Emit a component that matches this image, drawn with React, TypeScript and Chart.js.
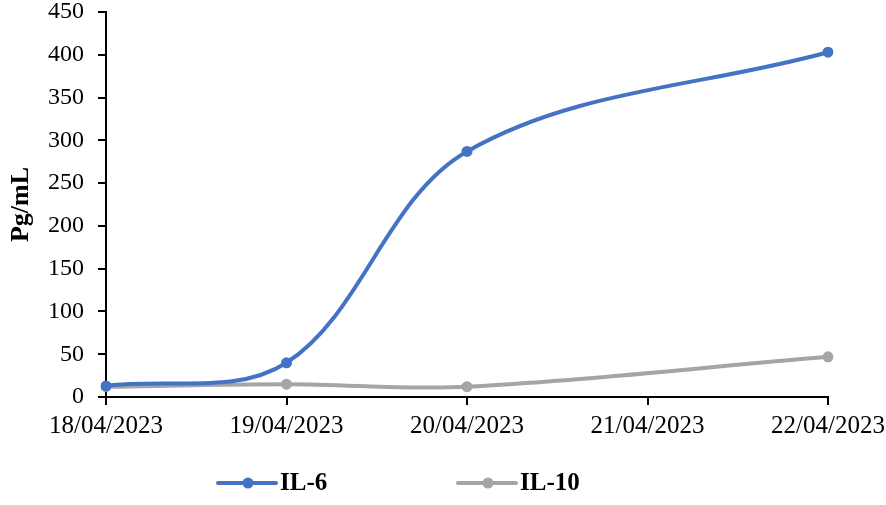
import React, { useEffect, useRef } from "react";
import { Chart, registerables } from "chart.js";

Chart.register(...registerables);

const dates = ["18/04/2023", "19/04/2023", "20/04/2023", "21/04/2023", "22/04/2023"];
const il6 = [13, 40, 287, null, 403];
const il10 = [12, 15, 12, null, 47];
const yTicks = [0, 50, 100, 150, 200, 250, 300, 350, 400, 450];

const BLUE = "#4472C4";
const GRAY = "#A5A5A5";
const FONT = "'Liberation Serif', 'Times New Roman', serif";

const legendPlugin = {
  id: "lineLegend",
  afterDraw(chart: any) {
    const ctx = chart.ctx;
    const items = [
      { label: "IL-6", color: BLUE, x0: 218 },
      { label: "IL-10", color: GRAY, x0: 458 },
    ];
    const y = 483;
    ctx.save();
    items.forEach((it) => {
      ctx.strokeStyle = it.color;
      ctx.lineWidth = 4;
      ctx.lineCap = "round";
      ctx.beginPath();
      ctx.moveTo(it.x0, y);
      ctx.lineTo(it.x0 + 58, y);
      ctx.stroke();
      ctx.fillStyle = it.color;
      ctx.beginPath();
      ctx.arc(it.x0 + 30, y, 5.5, 0, Math.PI * 2);
      ctx.fill();
      ctx.fillStyle = "#000";
      ctx.font = `bold 25px ${FONT}`;
      ctx.textBaseline = "middle";
      ctx.textAlign = "left";
      ctx.fillText(it.label, it.x0 + 62, y + 1);
    });
    ctx.restore();
  },
};

export default function App() {
  const ref = useRef<HTMLCanvasElement | null>(null);
  useEffect(() => {
    document.body.style.margin = "0";
    const canvas = ref.current!;
    const chart = new Chart(canvas, {
      type: "line",
      data: {
        labels: dates,
        datasets: [
          {
            label: "IL-6",
            data: il6,
            borderColor: BLUE,
            backgroundColor: BLUE,
            borderWidth: 4,
            pointRadius: 5.5,
            pointBorderWidth: 0,
            tension: 0.35,
            spanGaps: true,
          },
          {
            label: "IL-10",
            data: il10,
            borderColor: GRAY,
            backgroundColor: GRAY,
            borderWidth: 4,
            pointRadius: 5.5,
            pointBorderWidth: 0,
            tension: 0.35,
            spanGaps: true,
          },
        ],
      },
      options: {
        responsive: false,
        animation: false,
        layout: { padding: { top: 12, bottom: 58, left: 8, right: 58 } },
        plugins: {
          legend: { display: false },
          tooltip: { enabled: false },
        },
        scales: {
          x: {
            type: "category",
            offset: false,
            afterFit(scale: any) {
              scale.paddingLeft = 0;
              scale.paddingRight = 0;
            },
            grid: {
              display: true,
              drawOnChartArea: false,
              drawTicks: true,
              tickLength: 8,
              color: "#000",
              lineWidth: 2,
            },
            border: { display: true, color: "#000", width: 2 },
            ticks: {
              color: "#000",
              font: { family: FONT, size: 25 },
              maxRotation: 0,
              autoSkip: false,
              padding: 6,
            },
          },
          y: {
            min: 0,
            max: 450,
            afterBuildTicks(scale: any) {
              scale.ticks = yTicks.map((v) => ({ value: v }));
            },
            afterFit(scale: any) {
              scale.paddingTop = 0;
              scale.paddingBottom = 0;
            },
            grid: {
              display: true,
              drawOnChartArea: false,
              drawTicks: true,
              tickLength: 8,
              color: "#000",
              lineWidth: 2,
            },
            border: { display: true, color: "#000", width: 2 },
            ticks: {
              color: "#000",
              font: { family: FONT, size: 24 },
              padding: 14,
            },
            title: {
              display: true,
              text: "Pg/mL",
              color: "#000",
              font: { family: FONT, size: 26, weight: "bold", lineHeight: 1.0 },
              padding: { top: 0, bottom: 0 },
            },
          },
        },
      },
      plugins: [legendPlugin],
    });
    return () => chart.destroy();
  }, []);
  return <canvas ref={ref} width={886} height={505} style={{ display: "block" }} />;
}
